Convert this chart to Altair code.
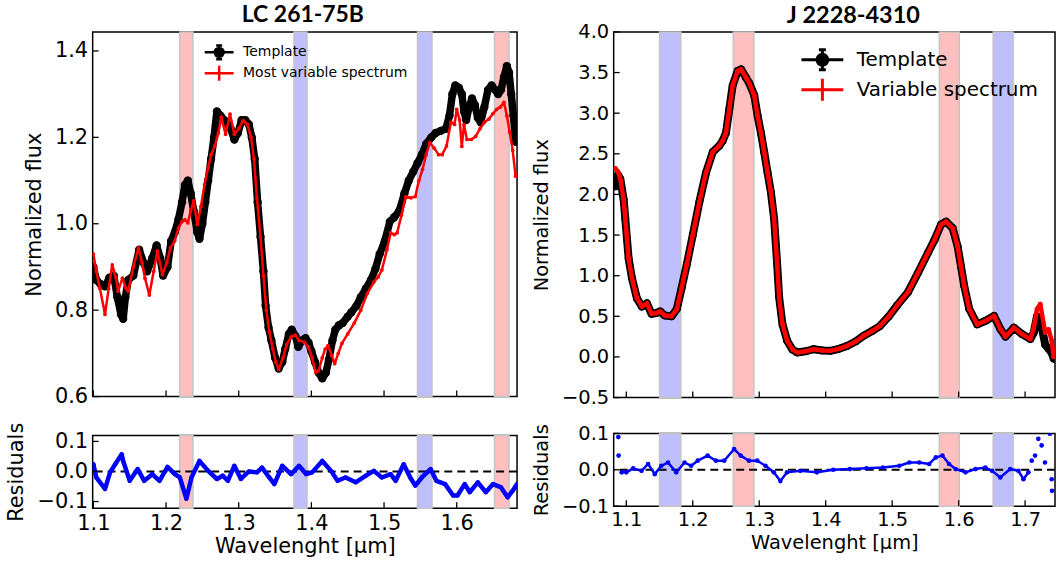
import altair as alt
import pandas as pd

# ---------------- LEFT PANEL : LC 261-75B ----------------
left_tpl_wave = [1.100, 1.104, 1.110, 1.116, 1.122, 1.128, 1.133, 1.138, 1.141, 1.144, 1.148, 1.155, 1.163, 1.169,
                 1.174, 1.181, 1.187, 1.192, 1.196, 1.202, 1.207, 1.212, 1.217, 1.222, 1.226, 1.230, 1.234, 1.238,
                 1.243, 1.246, 1.250, 1.254, 1.258, 1.262, 1.266, 1.270, 1.275, 1.280, 1.285, 1.289, 1.294, 1.299,
                 1.304, 1.309, 1.314, 1.318, 1.322, 1.326, 1.330, 1.334, 1.337, 1.341, 1.345, 1.350, 1.355, 1.360,
                 1.364, 1.369, 1.373, 1.378, 1.382, 1.387, 1.392, 1.396, 1.400, 1.405, 1.410, 1.415, 1.420, 1.424,
                 1.429, 1.433, 1.438, 1.443, 1.450, 1.455, 1.462, 1.468, 1.475, 1.482, 1.488, 1.494, 1.501, 1.508,
                 1.514, 1.521, 1.528, 1.534, 1.540, 1.546, 1.552, 1.558, 1.565, 1.571, 1.578, 1.585, 1.590, 1.594,
                 1.598, 1.603, 1.607, 1.610, 1.613, 1.617, 1.621, 1.625, 1.629, 1.633, 1.638, 1.643, 1.648, 1.653,
                 1.657, 1.661, 1.665, 1.669, 1.672, 1.675, 1.678, 1.681]
left_tpl_flux = [0.90, 0.87, 0.86, 0.855, 0.875, 0.88, 0.83, 0.79, 0.78, 0.83, 0.87, 0.88, 0.94, 0.91,
                 0.89, 0.92, 0.95, 0.92, 0.88, 0.90, 0.96, 0.98, 1.01, 1.05, 1.09, 1.10, 1.07, 1.03,
                 0.98, 0.965, 1.00, 1.05, 1.10, 1.15, 1.20, 1.26, 1.25, 1.24, 1.23, 1.22, 1.195, 1.21,
                 1.24, 1.24, 1.23, 1.20, 1.15, 1.05, 0.97, 0.89, 0.81, 0.76, 0.73, 0.69, 0.665, 0.68,
                 0.71, 0.745, 0.755, 0.74, 0.715, 0.73, 0.735, 0.725, 0.705, 0.68, 0.655, 0.642, 0.655, 0.685,
                 0.73, 0.755, 0.765, 0.77, 0.785, 0.795, 0.81, 0.83, 0.85, 0.87, 0.895, 0.93, 0.96, 1.005,
                 1.015, 1.03, 1.07, 1.10, 1.12, 1.14, 1.16, 1.185, 1.20, 1.21, 1.215, 1.22, 1.25, 1.30,
                 1.32, 1.315, 1.30, 1.26, 1.24, 1.27, 1.29, 1.275, 1.245, 1.235, 1.27, 1.31, 1.32, 1.31,
                 1.30, 1.31, 1.34, 1.365, 1.35, 1.30, 1.25, 1.19]

left_var_wave = [1.100, 1.104, 1.109, 1.116, 1.121, 1.126, 1.131, 1.134, 1.140, 1.145, 1.148, 1.155, 1.162, 1.167,
                 1.171, 1.177, 1.183, 1.188, 1.195, 1.201, 1.206, 1.212, 1.217, 1.222, 1.226, 1.230, 1.234, 1.238,
                 1.243, 1.248, 1.253, 1.258, 1.262, 1.267, 1.272, 1.276, 1.282, 1.288, 1.294, 1.300, 1.306, 1.312,
                 1.317, 1.321, 1.325, 1.330, 1.334, 1.338, 1.342, 1.347, 1.351, 1.355, 1.361, 1.366, 1.372, 1.378,
                 1.383, 1.390, 1.396, 1.401, 1.406, 1.410, 1.415, 1.419, 1.423, 1.428, 1.432, 1.437, 1.442, 1.450,
                 1.459, 1.468, 1.477, 1.486, 1.492, 1.497, 1.504, 1.509, 1.514, 1.518, 1.524, 1.530, 1.537, 1.543,
                 1.548, 1.553, 1.558, 1.563, 1.569, 1.575, 1.580, 1.586, 1.592, 1.597, 1.600, 1.604, 1.607, 1.610,
                 1.614, 1.620, 1.626, 1.632, 1.638, 1.644, 1.650, 1.655, 1.660, 1.665, 1.669, 1.673, 1.677, 1.681]
left_var_flux = [0.93, 0.89, 0.85, 0.79, 0.85, 0.905, 0.875, 0.844, 0.874, 0.85, 0.844, 0.90, 0.944, 0.91,
                 0.874, 0.835, 0.89, 0.937, 0.882, 0.91, 0.944, 0.96, 0.99, 1.005, 1.009, 1.002, 1.03, 1.053,
                 0.998, 1.04, 1.091, 1.13, 1.16, 1.18, 1.21, 1.247, 1.207, 1.254, 1.207, 1.22, 1.239, 1.23,
                 1.20, 1.15, 1.06, 0.97, 0.88, 0.80, 0.75, 0.71, 0.68, 0.663, 0.69, 0.72, 0.738, 0.742,
                 0.73, 0.726, 0.715, 0.69, 0.656, 0.66, 0.69, 0.71, 0.718, 0.695, 0.676, 0.70, 0.723, 0.745,
                 0.77, 0.80, 0.839, 0.865, 0.877, 0.893, 0.94, 0.979, 0.975, 0.979, 1.02, 1.063, 1.06, 1.063,
                 1.10, 1.126, 1.16, 1.188, 1.175, 1.16, 1.16, 1.18, 1.235, 1.23, 1.265, 1.24, 1.179, 1.23,
                 1.195, 1.195, 1.202, 1.22, 1.235, 1.242, 1.255, 1.265, 1.27, 1.281, 1.25, 1.212, 1.17, 1.11]

left_res_wave = [1.100, 1.104, 1.116, 1.123, 1.130, 1.139, 1.141, 1.150, 1.161, 1.170, 1.181, 1.191, 1.202, 1.212,
                 1.219, 1.228, 1.235, 1.246, 1.258, 1.270, 1.278, 1.285, 1.294, 1.303, 1.314, 1.325, 1.332, 1.342,
                 1.349, 1.360, 1.372, 1.383, 1.393, 1.401, 1.415, 1.427, 1.436, 1.447, 1.461, 1.475, 1.486, 1.497,
                 1.509, 1.516, 1.527, 1.536, 1.543, 1.552, 1.564, 1.572, 1.584, 1.595, 1.601, 1.611, 1.618, 1.629,
                 1.640, 1.650, 1.661, 1.670, 1.677, 1.683]
left_res_vals = [0.024, -0.02, -0.058, -0.003, 0.024, 0.057, 0.035, -0.031, 0.008, -0.031, -0.009, -0.031, 0.015,
                 -0.009, -0.02, -0.091, -0.02, 0.035, 0.002, -0.025, -0.014, -0.031, 0.019, -0.025, 0.0, -0.003,
                 0.013, -0.02, -0.042, 0.019, -0.009, 0.019, -0.009, -0.003, 0.035, 0.002, -0.031, -0.02, -0.036,
                 -0.014, 0.002, -0.02, -0.009, -0.031, 0.024, -0.02, -0.047, -0.02, 0.008, -0.031, -0.042, -0.08,
                 -0.08, -0.042, -0.069, -0.036, -0.069, -0.042, -0.053, -0.086, -0.064, -0.042]

left_red_lo = [1.219, 1.652]
left_red_hi = [1.237, 1.672]
left_blue_lo = [1.376, 1.546]
left_blue_hi = [1.394, 1.566]
left_legend = ["Template", "Most variable spectrum"]
left_xticks = [1.1, 1.2, 1.3, 1.4, 1.5, 1.6]
left_yticks = [0.6, 0.8, 1.0, 1.2, 1.4]
res_yticks = [-0.1, 0.0, 0.1]

# ---------------- RIGHT PANEL : J 2228-4310 ----------------
right_wave = [1.0836, 1.0875, 1.091, 1.096, 1.0985, 1.101, 1.1035, 1.1085, 1.116, 1.1235, 1.131, 1.138, 1.145,
              1.151, 1.158, 1.168, 1.176, 1.183, 1.191, 1.200, 1.210, 1.220, 1.230, 1.240, 1.245, 1.250, 1.255,
              1.260, 1.2675, 1.2727, 1.280, 1.285, 1.2925, 1.2975, 1.3025, 1.3075, 1.3125, 1.3175, 1.3224, 1.325,
              1.327, 1.330, 1.335, 1.342, 1.350, 1.357, 1.370, 1.382, 1.395, 1.407, 1.420, 1.432, 1.445, 1.457,
              1.470, 1.4816, 1.495, 1.507, 1.524, 1.5388, 1.5537, 1.5637, 1.5736, 1.581, 1.591, 1.5985, 1.6034,
              1.6085, 1.616, 1.628, 1.6407, 1.6533, 1.663, 1.6706, 1.6831, 1.6955, 1.7079, 1.713, 1.7179, 1.7229,
              1.7303, 1.7353, 1.740, 1.743]
right_tpl_flux = [2.10, 2.24, 2.19, 1.94, 1.70, 1.455, 1.21, 0.97, 0.72, 0.62, 0.66, 0.53, 0.54,
                  0.56, 0.51, 0.50, 0.59, 0.84, 1.14, 1.50, 1.91, 2.27, 2.52, 2.60, 2.66, 2.76, 3.05,
                  3.34, 3.52, 3.54, 3.44, 3.37, 3.22, 2.97, 2.76, 2.52, 2.27, 2.03, 1.70, 1.38,
                  1.14, 0.73, 0.40, 0.20, 0.09, 0.055, 0.07, 0.095, 0.08, 0.075, 0.10, 0.135, 0.19, 0.26,
                  0.32, 0.38, 0.50, 0.63, 0.80, 1.035, 1.28, 1.44, 1.63, 1.665, 1.585, 1.36, 1.12,
                  0.87, 0.59, 0.40, 0.445, 0.505, 0.34, 0.25, 0.36, 0.28, 0.22, 0.30, 0.50, 0.45,
                  0.15, 0.10, 0.05, -0.02]
right_var_flux = [2.32, 2.28, 2.19, 1.94, 1.70, 1.455, 1.21, 0.97, 0.72, 0.62, 0.66, 0.53, 0.54,
                  0.56, 0.51, 0.50, 0.59, 0.84, 1.14, 1.50, 1.91, 2.27, 2.52, 2.60, 2.66, 2.76, 3.05,
                  3.34, 3.52, 3.54, 3.44, 3.37, 3.22, 2.97, 2.76, 2.52, 2.27, 2.03, 1.70, 1.38,
                  1.14, 0.73, 0.40, 0.20, 0.09, 0.055, 0.07, 0.095, 0.08, 0.075, 0.10, 0.135, 0.19, 0.26,
                  0.32, 0.38, 0.50, 0.63, 0.80, 1.035, 1.28, 1.44, 1.63, 1.665, 1.585, 1.36, 1.12,
                  0.87, 0.59, 0.40, 0.445, 0.505, 0.34, 0.25, 0.36, 0.28, 0.22, 0.35, 0.59, 0.65,
                  0.30, 0.34, 0.20, 0.0]

right_res_wave = [1.093, 1.100, 1.1104, 1.1229, 1.1328, 1.1428, 1.1527, 1.1627, 1.1751, 1.1876, 1.1975, 1.2075,
                  1.2224, 1.2348, 1.2473, 1.2622, 1.2721, 1.2846, 1.297, 1.3094, 1.3219, 1.3318, 1.3418, 1.3617,
                  1.3866, 1.4115, 1.4363, 1.4612, 1.4861, 1.5109, 1.5258, 1.5407, 1.5557, 1.5657, 1.5756, 1.5856,
                  1.5955, 1.6104, 1.6254, 1.6403, 1.6503, 1.6627, 1.6776, 1.690, 1.6975, 1.705]
right_res_vals = [-0.007, -0.007, 0.004, -0.003, 0.016, -0.012, 0.011, 0.02, -0.007, 0.02, 0.011, 0.025,
                  0.039, 0.025, 0.025, 0.057, 0.039, 0.025, 0.025, 0.011, -0.007, -0.031, -0.007, -0.003,
                  -0.007, 0.0, 0.002, 0.004, 0.006, 0.011, 0.02, 0.02, 0.016, 0.034, 0.039, 0.016,
                  0.002, -0.007, 0.002, 0.006, -0.003, -0.021, 0.002, -0.003, -0.026, -0.007]
right_scatter_wave = [1.088, 1.0884, 1.710, 1.715, 1.7199, 1.7249, 1.7299, 1.7373, 1.740, 1.7405]
right_scatter_vals = [0.09, 0.039, 0.025, 0.039, 0.085, 0.067, 0.02, 0.099, -0.026, -0.058]

right_red_lo = [1.261, 1.571]
right_red_hi = [1.292, 1.601]
right_blue_lo = [1.150, 1.652]
right_blue_hi = [1.182, 1.682]
right_legend = ["Template", "Variable spectrum"]
right_xticks = [1.1, 1.2, 1.3, 1.4, 1.5, 1.6, 1.7]
right_yticks = [-0.5, 0.0, 0.5, 1.0, 1.5, 2.0, 2.5, 3.0, 3.5, 4.0]

FONT = "DejaVu Sans"
TICKLEN = 6

# custom legend symbols (errorbar-style), unit coordinates scaled by sqrt(symbolSize)/2
LEFT_PATH_TPL = ("M-1.93,0L1.93,0M0,-0.93L0,0.93M-0.4,-0.93L0.4,-0.93M-0.4,0.93L0.4,0.93"
                 "M0.6,0A0.6,0.6,0,1,1,-0.6,0A0.6,0.6,0,1,1,0.6,0Z")
LEFT_PATH_VAR = "M-1.93,0L1.93,0M0,-1L0,1"
RIGHT_PATH_TPL = ("M-2.1,0L2.1,0M0,-1L0,1M-0.35,-1L0.35,-1M-0.35,1L0.35,1"
                  "M0.55,0A0.55,0.55,0,1,1,-0.55,0A0.55,0.55,0,1,1,0.55,0Z")
RIGHT_PATH_VAR = "M-2.1,0L2.1,0M0,-1.1L0,1.1"


def panel(p):
    xs = alt.Scale(domain=p["xdom"], nice=False, zero=False)
    ys = alt.Scale(domain=p["ydom"], nice=False, zero=False)
    rs = alt.Scale(domain=p["rdom"], nice=False, zero=False)
    fs = p["font"]

    no_x = None
    y_axis = alt.Axis(values=p["yticks"], format=".1f", title="Normalized flux", labelPadding=5,
                      titlePadding=p["ytp"], labelFlush=False, labelOverlap=False, labelFontSize=fs,
                      titleFontSize=fs)
    r_axis = alt.Axis(values=res_yticks, format=".1f", title="Residuals", labelPadding=5,
                      titlePadding=p["rtp"], labelFlush=False, labelOverlap=False, labelFontSize=fs,
                      titleFontSize=fs)
    x_axis = alt.Axis(values=p["xticks"], format=".1f", title="Wavelenght [μm]", labelPadding=4,
                      titlePadding=p["xtp"], labelFlush=False, labelOverlap=False, labelFontSize=fs,
                      titleFontSize=fs)

    red_df = pd.DataFrame({"lo": p["red_lo"], "hi": p["red_hi"]})
    blue_df = pd.DataFrame({"lo": p["blue_lo"], "hi": p["blue_hi"]})
    tpl_df = pd.DataFrame({"w": p["tpl_w"], "f": p["tpl_f"]})
    var_df = pd.DataFrame({"w": p["var_w"], "f": p["var_f"]})
    xt_df = pd.DataFrame({"v": p["xticks"]})
    yt_df = pd.DataFrame({"v": p["yticks"]})
    rt_df = pd.DataFrame({"v": res_yticks})
    leg_df = pd.DataFrame({"s": p["legend"]})

    def bands(xaxis):
        r = alt.Chart(red_df).mark_rect(color="#FFBFBF", stroke="#C4C4C4", strokeWidth=1.5).encode(
            x=alt.X("lo:Q", scale=xs, axis=xaxis), x2="hi:Q")
        b = alt.Chart(blue_df).mark_rect(color="#BFBFFF", stroke="#C4C4C4", strokeWidth=1.5).encode(
            x=alt.X("lo:Q", scale=xs, axis=xaxis), x2="hi:Q")
        return [r, b]

    H, RH = p["h"], p["rh"]
    leg = alt.Legend(orient="none", legendX=p["legx"], legendY=p["legy"], title=None, labelFont=FONT,
                     labelFontSize=p["legfs"], labelColor="black", symbolSize=p["symsize"],
                     symbolStrokeWidth=p["symsw"], labelOffset=p["labeloff"], rowPadding=p["rowpad"],
                     padding=0, symbolOpacity=1, labelLimit=500)
    sdom = p["legend"]
    legend_layer = alt.Chart(leg_df).mark_point(filled=True, clip=True, opacity=1).encode(
        x=alt.value(-80), y=alt.value(-80),
        fill=alt.Fill("s:N", scale=alt.Scale(domain=sdom, range=["black", "red"]), legend=leg),
        stroke=alt.Stroke("s:N", scale=alt.Scale(domain=sdom, range=["black", "red"]), legend=leg),
        shape=alt.Shape("s:N", scale=alt.Scale(domain=sdom, range=p["paths"]), legend=leg),
    )

    main_layers = bands(no_x) + [
        alt.Chart(tpl_df).mark_line(color="black", strokeWidth=p["tpl_lw"], clip=True,
                                    strokeJoin="round", strokeCap="round").encode(
            x=alt.X("w:Q", scale=xs, axis=no_x), y=alt.Y("f:Q", scale=ys, axis=y_axis)),
        alt.Chart(tpl_df).mark_circle(color="black", size=p["tpl_ms"], opacity=1, clip=True).encode(
            x=alt.X("w:Q", scale=xs, axis=no_x), y=alt.Y("f:Q", scale=ys, axis=y_axis)),
        alt.Chart(var_df).mark_line(color="red", strokeWidth=p["var_lw"], clip=True,
                                    strokeJoin="round", strokeCap="round").encode(
            x=alt.X("w:Q", scale=xs, axis=no_x), y=alt.Y("f:Q", scale=ys, axis=y_axis)),
        alt.Chart(var_df).mark_circle(color="red", size=p["var_ms"], opacity=1, clip=True).encode(
            x=alt.X("w:Q", scale=xs, axis=no_x), y=alt.Y("f:Q", scale=ys, axis=y_axis)),
        alt.Chart(xt_df).mark_rule(color="black", strokeWidth=1.3).encode(
            x=alt.X("v:Q", scale=xs, axis=no_x), y=alt.value(H), y2=alt.value(H - TICKLEN)),
        alt.Chart(yt_df).mark_rule(color="black", strokeWidth=1.3).encode(
            y=alt.Y("v:Q", scale=ys, axis=y_axis), x=alt.value(0), x2=alt.value(TICKLEN)),
        legend_layer,
    ]
    main = alt.layer(*main_layers).properties(
        width=p["w"], height=H,
        title=alt.TitleParams(p["title"], font="Lato", fontSize=p["tfs"], fontWeight="bold", color="black",
                              anchor="middle", dx=p["tdx"], offset=p["toff"]))

    res_pts = pd.DataFrame({"w": p["res_w"], "r": p["res_v"]})
    res_layers = bands(x_axis) + [
        alt.Chart(pd.DataFrame({"z": [0.0]})).mark_rule(color="black", strokeDash=[8, 5], strokeWidth=2).encode(
            y=alt.Y("z:Q", scale=rs, axis=r_axis)),
        alt.Chart(res_pts).mark_line(color="blue", strokeWidth=p["res_lw"], clip=True,
                                     strokeJoin="round", strokeCap="round").encode(
            x=alt.X("w:Q", scale=xs, axis=x_axis), y=alt.Y("r:Q", scale=rs, axis=r_axis)),
        alt.Chart(res_pts).mark_circle(color="blue", size=p["res_ms"], opacity=1, clip=True).encode(
            x=alt.X("w:Q", scale=xs, axis=x_axis), y=alt.Y("r:Q", scale=rs, axis=r_axis)),
    ]
    if p.get("sc_w"):
        sc = pd.DataFrame({"w": p["sc_w"], "r": p["sc_v"]})
        res_layers.append(alt.Chart(sc).mark_circle(color="blue", size=p["res_ms"], opacity=1, clip=True).encode(
            x=alt.X("w:Q", scale=xs, axis=x_axis), y=alt.Y("r:Q", scale=rs, axis=r_axis)))
    res_layers += [
        alt.Chart(xt_df).mark_rule(color="black", strokeWidth=1.3).encode(
            x=alt.X("v:Q", scale=xs, axis=x_axis), y=alt.value(RH), y2=alt.value(RH - TICKLEN)),
        alt.Chart(rt_df).mark_rule(color="black", strokeWidth=1.3).encode(
            y=alt.Y("v:Q", scale=rs, axis=r_axis), x=alt.value(0), x2=alt.value(TICKLEN)),
    ]
    res = alt.layer(*res_layers).properties(width=p["w"], height=RH)
    return alt.vconcat(main, res, spacing=p["vsp"]).resolve_scale(y="independent")


left = panel(dict(
    xdom=[1.099, 1.683], ydom=[0.6, 1.444], rdom=[-0.122, 0.12], w=426, h=366, rh=73, vsp=13,
    font=21, ytp=10, rtp=10, xtp=3, xticks=left_xticks, yticks=left_yticks,
    red_lo=left_red_lo, red_hi=left_red_hi, blue_lo=left_blue_lo, blue_hi=left_blue_hi,
    tpl_w=left_tpl_wave, tpl_f=left_tpl_flux, var_w=left_var_wave, var_f=left_var_flux,
    res_w=left_res_wave, res_v=left_res_vals, legend=left_legend,
    paths=[LEFT_PATH_TPL, LEFT_PATH_VAR],
    legx=118, legy=11.5, legfs=14, symsize=225, symsw=2.5, labeloff=15, rowpad=-4,
    tpl_lw=7.5, tpl_ms=70, var_lw=2.5, var_ms=14, res_lw=4.5, res_ms=18,
    title="LC 261-75B", tfs=23, tdx=-2, toff=4,
))

right = panel(dict(
    xdom=[1.081, 1.745], ydom=[-0.5, 4.0], rdom=[-0.1, 0.1], w=443, h=367, rh=73, vsp=14,
    font=19.5, ytp=10, rtp=10, xtp=5, xticks=right_xticks, yticks=right_yticks,
    red_lo=right_red_lo, red_hi=right_red_hi, blue_lo=right_blue_lo, blue_hi=right_blue_hi,
    tpl_w=right_wave, tpl_f=right_tpl_flux, var_w=right_wave, var_f=right_var_flux,
    res_w=right_res_wave, res_v=right_res_vals, sc_w=right_scatter_wave, sc_v=right_scatter_vals,
    legend=right_legend, paths=[RIGHT_PATH_TPL, RIGHT_PATH_VAR],
    legx=198, legy=16.5, legfs=20, symsize=400, symsw=3, labeloff=23, rowpad=-4,
    tpl_lw=8, tpl_ms=60, var_lw=4.5, var_ms=22, res_lw=2.5, res_ms=22,
    title="J 2228-4310", tfs=23.5, tdx=19, toff=-6,
))

chart = alt.hconcat(left, right, spacing=11).resolve_scale(
    fill="independent", stroke="independent", shape="independent", x="independent", y="independent"
).properties(
    padding={"left": 5, "top": 2, "right": 0, "bottom": 0}
).configure_view(
    stroke="black", strokeWidth=1.5
).configure_axis(
    labelFont=FONT, titleFont=FONT, labelColor="black", titleColor="black", titleFontWeight="normal",
    grid=False, domain=False, ticks=False
)

chart.save("out.html", embed_options={"renderer": "svg", "actions": False})
